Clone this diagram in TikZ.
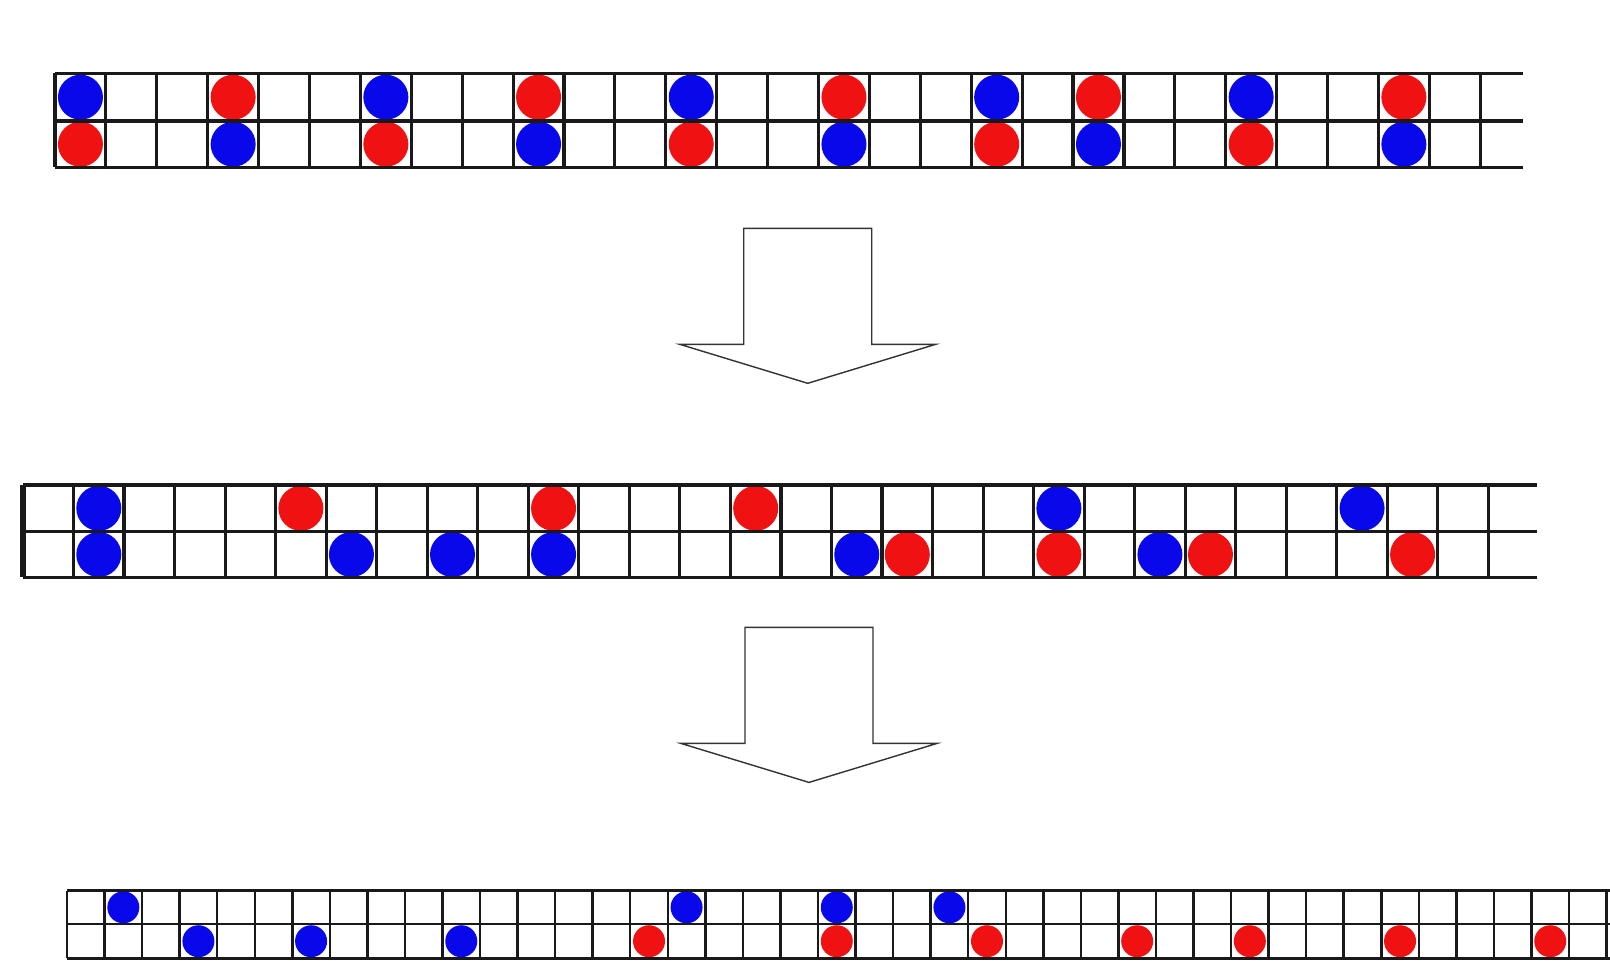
\documentclass[tikz,border=0pt]{standalone}
\definecolor{beadblue}{RGB}{8,8,235}
\definecolor{beadred}{RGB}{240,18,18}

\begin{document}
\begin{tikzpicture}[
  x=0.01cm, y=-0.01cm,
  % Grid and bead styles
  gridline/.style={draw=black!90, line width=0.9pt},
  thingrid/.style={draw=black!90, line width=0.7pt},
  bluebead/.style={fill=beadblue},
  redbead/.style={fill=beadred},
  flowarrow/.style={draw=black!80, line width=0.4pt, fill=white},
  pics/downarrow/.style={code={
    \draw[flowarrow] (-64,0) -- (-64,116) -- (-128,116) -- (0,155)
      -- (128,116) -- (64,116) -- (64,0) -- cycle;}},
]
\useasboundingbox (0,0) rectangle (1610,960);

% === Grid 1: starting lattice ===
\def\gx{55}
\def\gw{50.9}
\foreach \i/\s in {0/bluebead,3/redbead,6/bluebead,9/redbead,12/bluebead,
    15/redbead,18/bluebead,20/redbead,23/bluebead,26/redbead}
  \fill[\s] ({\gx+(\i+0.5)*\gw},97.2) circle[radius=0.225cm];
\foreach \i/\s in {0/redbead,3/bluebead,6/redbead,9/bluebead,12/redbead,
    15/bluebead,18/redbead,20/bluebead,23/redbead,26/bluebead}
  \fill[\s] ({\gx+(\i+0.5)*\gw},144.2) circle[radius=0.225cm];
\foreach \y in {73.3,121,167.3}
  \draw[gridline] (\gx,\y) -- (1523,\y);
\foreach \i in {0,...,28}
  \draw[gridline] ({\gx+\i*\gw},73.3) -- ({\gx+\i*\gw},167.3);
\draw[gridline, line width=1.3pt] (\gx,73.3) -- (\gx,167.3);

% === Arrow 1 ===
\pic at (807.7,228.3) {downarrow};

% === Grid 2: after the first step ===
\def\gx{23}
\def\gw{50.53}
\foreach \i/\s in {1/bluebead,5/redbead,10/redbead,14/redbead,20/bluebead,26/bluebead}
  \fill[\s] ({\gx+(\i+0.5)*\gw},508.3) circle[radius=0.225cm];
\foreach \i/\s in {1/bluebead,6/bluebead,8/bluebead,10/bluebead,16/bluebead,
    17/redbead,20/redbead,22/bluebead,23/redbead,27/redbead}
  \fill[\s] ({\gx+(\i+0.5)*\gw},554.5) circle[radius=0.225cm];
\foreach \y in {485,531.7,577.3}
  \draw[gridline] (\gx,\y) -- (1537,\y);
\foreach \i in {0,...,29}
  \draw[gridline] ({\gx+\i*\gw},485) -- ({\gx+\i*\gw},577.3);
\draw[gridline, line width=1.6pt] (\gx,485) -- (\gx,577.3);

% === Arrow 2 ===
\pic at (809,627.4) {downarrow};

% === Grid 3: final lattice ===
\def\gx{67}
\def\gw{37.55}
\foreach \i in {1,16,20,23}
  \fill[bluebead] ({\gx+(\i+0.5)*\gw},907.3) circle[radius=0.16cm];
\foreach \i/\s in {3/bluebead,6/bluebead,10/bluebead,15/redbead,20/redbead,
    24/redbead,28/redbead,31/redbead,35/redbead,39/redbead}
  \fill[\s] ({\gx+(\i+0.5)*\gw},941.2) circle[radius=0.16cm];
\foreach \y in {890.7,924,958.3}
  \draw[thingrid] (\gx,\y) -- (1612,\y);
\foreach \i in {0,...,41}
  \draw[thingrid] ({\gx+\i*\gw},890.7) -- ({\gx+\i*\gw},958.3);

\end{tikzpicture}
\end{document}
